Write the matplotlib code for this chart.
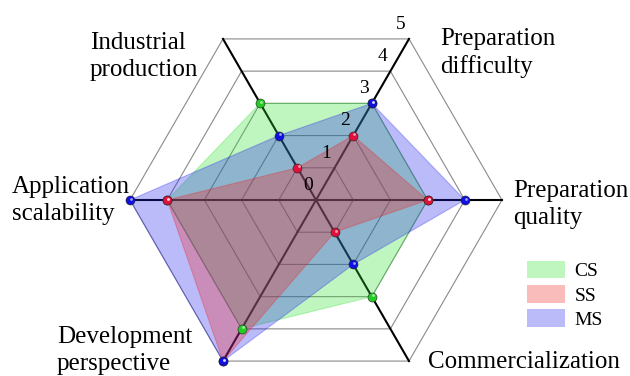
import numpy as np
import matplotlib
matplotlib.use("Agg")
import matplotlib.pyplot as plt
from matplotlib.patches import Patch

plt.rcParams['font.family'] = ['Liberation Serif', 'DejaVu Serif']

# ejes del radar (sentido horario desde arriba a la derecha)
categorias = ["Preparation\ndifficulty", "Preparation\nquality", "Commercialization",
              "Development\nperspective", "Application\nscalability", "Industrial\nproduction"]
angulos_deg = [60, 0, -60, -120, 180, 120]
niveles = [0, 1, 2, 3, 4, 5]

series = ["CS", "SS", "MS"]
cs = [3, 3, 3, 4, 4, 3]
ss = [2, 3, 1, 5, 4, 1]
ms = [3, 4, 2, 5, 5, 2]

colores_fill = {"CS": "#2ee02e", "SS": "#f02020", "MS": "#2020f0"}
colores_punto = {"CS": "#22cc22", "SS": "#e0103c", "MS": "#1010e0"}

W, H = 630, 376
cx, cy, escala = 316, 200, 37.2  # centro en px y px por unidad

fig = plt.figure(figsize=(W / 100, H / 100), dpi=100)
ax = fig.add_axes([0, 0, 1, 1])
ax.set_xlim(-cx / escala, (W - cx) / escala)
ax.set_ylim(-(H - cy) / escala, cy / escala)
ax.axis("off")

ang = np.radians(angulos_deg)

def xy(valores):
    v = np.asarray(valores, dtype=float)
    return v * np.cos(ang), v * np.sin(ang)

# anillos hexagonales
for n in niveles[1:]:
    x, y = xy([n] * 6)
    ax.plot(np.append(x, x[0]), np.append(y, y[0]), color="#8a8a8a", lw=0.8, zorder=1)

# radios
top = niveles[-1]
for a in ang:
    ax.plot([0, top * np.cos(a)], [0, top * np.sin(a)], color="black", lw=1.5, zorder=2)

# poligonos
datos = {"CS": cs, "SS": ss, "MS": ms}
for nombre in ["CS", "MS", "SS"]:
    x, y = xy(datos[nombre])
    ax.fill(x, y, color=colores_fill[nombre], alpha=0.3, lw=0, zorder=3)
    ax.plot(np.append(x, x[0]), np.append(y, y[0]), color=colores_fill[nombre], alpha=0.3, lw=0.8, zorder=3)

for nombre in ["CS", "SS", "MS"]:
    x, y = xy(datos[nombre])
    ax.plot(x, y, ls="none", marker="o", ms=6.5, mfc=colores_punto[nombre],
            mec="#202020", mew=0.4, zorder=5)
    ax.plot(x + 0.03, y + 0.04, ls="none", marker="o", ms=2, mfc="white", mec="none",
            alpha=0.6, zorder=6)

# numeros de escala sobre el eje de 60 grados
a60 = np.radians(60)
for n in niveles:
    ax.annotate(str(n), (n * np.cos(a60), n * np.sin(a60)), xytext=(-5.8, 10.5),
                textcoords="offset points", ha="center", va="center", fontsize=14, zorder=7)

# etiquetas de los ejes (posicion en px de la ultima linea base)
pos_etiquetas = [(440, 73), (513, 224), (428, 368), (57, 370), (12, 220), (90, 76)]
for texto, (px, py) in zip(categorias, pos_etiquetas):
    fig.text(px / W, 1 - py / H, texto, ha="left", va="baseline", fontsize=18,
             linespacing=1.3, multialignment="left")

handles = [Patch(facecolor=colores_fill[s], alpha=0.3, edgecolor="none") for s in series]
fig.legend(handles, series, loc="upper left", bbox_to_anchor=(527 / W, 1 - 261 / H),
           frameon=False, fontsize=14, handlelength=1.95, handleheight=1.0,
           handletextpad=0.5, labelspacing=0.25, borderpad=0, borderaxespad=0)

fig.savefig("out.png", dpi=100)
